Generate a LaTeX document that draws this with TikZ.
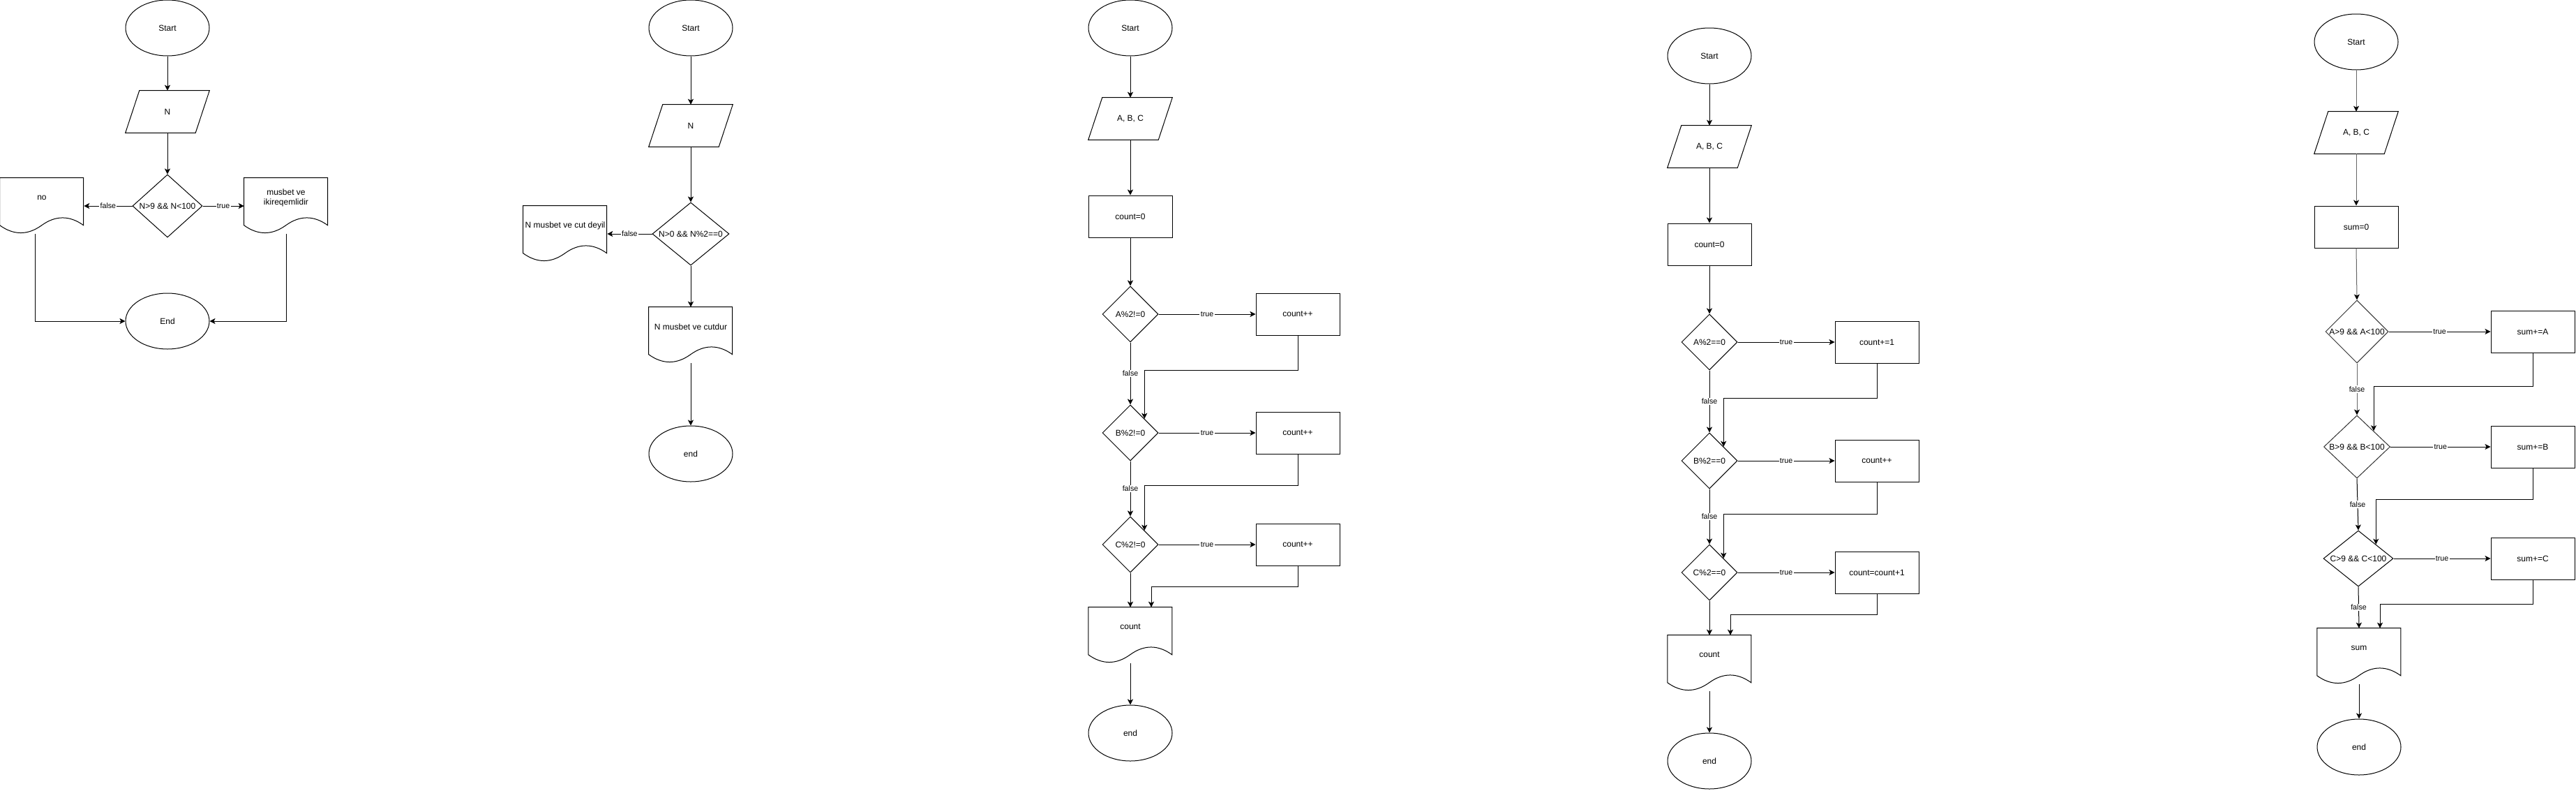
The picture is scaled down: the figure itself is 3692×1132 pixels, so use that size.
\documentclass[tikz,border=0pt]{standalone}
\usepackage{fontspec}
\setmainfont{Liberation Sans}
\usetikzlibrary{shapes.geometric,arrows.meta,calc}

\tikzset{
  every node/.style={font=\fontsize{9}{10.5}\selectfont},
  term/.style={ellipse, draw, line width=0.75pt, minimum width=90pt, minimum height=60pt, inner sep=0pt},
  procbox/.style={rectangle, draw, line width=0.75pt, minimum width=90pt, minimum height=45pt, inner sep=0pt},
  iobox/.style={rectangle, minimum width=90pt, minimum height=45pt, inner sep=0pt},
  decision/.style 2 args={diamond, draw, line width=0.75pt, inner sep=0pt, minimum width=#1, minimum height=#2},
  docbox/.style={rectangle, minimum width=90pt, minimum height=60pt, inner sep=0pt},
  flow/.style={line width=0.75pt, -{Stealth[length=6pt,width=6pt,inset=1.5pt]}},
  flowgray/.style={line width=0.75pt, draw=black!60, -{Stealth[length=6pt,width=6pt,inset=1.5pt,color=black]}},
  plain/.style={line width=0.75pt},
  elabel/.style={fill=white, inner sep=1pt, font=\fontsize{8}{9}\selectfont},
}

\newcommand\parashape[1]{\draw[plain] ($(#1.north west)+(20,0)$) -- (#1.north east) -- ($(#1.south east)+(-20,0)$) -- (#1.south west) -- cycle;}
\newcommand\docshape[1]{\draw[plain, shift={(#1.north west)}] (0,0) -- (120,0) -- (120,68) .. controls (100,53.6) and (80,53.6) .. (60,68) .. controls (40,82.4) and (20,82.4) .. (0,68) -- cycle;}

\begin{document}
\begin{tikzpicture}[x=0.75pt, y=-0.75pt]
\useasboundingbox (0,0) rectangle (3692,1132);

% ---------------- Chart 1 ----------------
\node[term] (s1) at (240,40) {Start};
\node[iobox] (n1) at (240,160) {N}; \parashape{n1}
\node[decision={75pt}{67.5pt}, label=center:{N>9 \&\& N<100}] (d1) at (240,295) {};
\node[docbox, label={[yshift=9pt]center:{no}}] (no1) at (60,295) {}; \docshape{no1}
\node[docbox, label={[yshift=9pt,align=center]center:{musbet ve\\ikireqemlidir}}] (ok1) at (410,295) {}; \docshape{ok1}
\node[term] (e1) at (240,460) {End};
\draw[flow] (s1.south) -- (n1.north);
\draw[flow] (n1.south) -- (d1.north);
\draw[flow] (d1.west) -- node[elabel]{false} (no1.east);
\draw[flow] (d1.east) -- node[elabel]{true} (ok1.west);
\draw[flow] ($(no1.south)+(-10,0)$) |- (e1.west);
\draw[flow] (ok1.south) |- (e1.east);

% ---------------- Chart 2 ----------------
\node[term] (s2) at (990,40) {Start};
\node[iobox] (n2) at (990,180) {N}; \parashape{n2}
\node[decision={82.5pt}{67.5pt}, label=center:{N>0 \&\& N\%2==0}] (d2) at (990,335) {};
\node[docbox, label={[yshift=9pt]center:{N musbet ve cut deyil}}] (no2) at (810,335) {}; \docshape{no2}
\node[docbox, label={[yshift=9pt]center:{N musbet ve cutdur}}] (ok2) at (990,480) {}; \docshape{ok2}
\node[term] (e2) at (990,650) {end};
\draw[flow] (s2.south) -- (n2.north);
\draw[flow] (n2.south) -- (d2.north);
\draw[flow] (d2.west) -- node[elabel]{false} (no2.east);
\draw[flow] (d2.south) -- (ok2.north);
\draw[flow] (ok2.south) -- (e2.north);

% ---------------- Chart 3 ----------------
\node[term] (s3) at (1620,40) {Start};
\node[iobox] (n3) at (1620,170) {A, B, C}; \parashape{n3}
\node[procbox] (c3) at (1620,310) {count=0};
\node[decision={60pt}{60pt}, label=center:{A\%2!=0}] (a3) at (1620,450) {};
\node[procbox] (ai3) at (1860,450) {count++};
\node[decision={60pt}{60pt}, label=center:{B\%2!=0}] (b3) at (1620,620) {};
\node[procbox] (bi3) at (1860,620) {count++};
\node[decision={60pt}{60pt}, label=center:{C\%2!=0}] (cc3) at (1620,780) {};
\node[procbox] (ci3) at (1860,780) {count++};
\node[docbox, label={[yshift=9pt]center:{count}}] (o3) at (1620,910) {}; \docshape{o3}
\node[term] (e3) at (1620,1050) {end};
\draw[flow] (s3.south) -- (n3.north);
\draw[flow] (n3.south) -- (c3.north);
\draw[flow] (c3.south) -- (a3.north);
\draw[flow] (a3.east) -- node[elabel]{true} (ai3.west);
\draw[flow] (a3.south) -- node[elabel]{false} (b3.north);
\draw[flow] (ai3.south) -- ++(0,50) -| (b3.north east);
\draw[flow] (b3.east) -- node[elabel]{true} (bi3.west);
\draw[flow] (b3.south) -- node[elabel]{false} (cc3.north);
\draw[flow] (bi3.south) -- ++(0,45) -| (cc3.north east);
\draw[flow] (cc3.east) -- node[elabel]{true} (ci3.west);
\draw[flow] (cc3.south) -- (o3.north);
\draw[flow] (ci3.south) -- ++(0,30) -| ($(o3.north)+(30,0)$);
\draw[flow] (o3.south) -- (e3.north);

% ---------------- Chart 4 ----------------
\node[term] (s4) at (2450,80) {Start};
\node[iobox] (n4) at (2450,210) {A, B, C}; \parashape{n4}
\node[procbox] (c4) at (2450,350) {count=0};
\node[decision={60pt}{60pt}, label=center:{A\%2==0}] (a4) at (2450,490) {};
\node[procbox] (ai4) at (2690,490) {count+=1};
\node[decision={60pt}{60pt}, label=center:{B\%2==0}] (b4) at (2450,660) {};
\node[procbox] (bi4) at (2690,660) {count++};
\node[decision={60pt}{60pt}, label=center:{C\%2==0}] (cc4) at (2450,820) {};
\node[procbox] (ci4) at (2690,820) {count=count+1};
\node[docbox, label={[yshift=9pt]center:{count}}] (o4) at (2450,950) {}; \docshape{o4}
\node[term] (e4) at (2450,1090) {end};
\draw[flow] (s4.south) -- (n4.north);
\draw[flow] (n4.south) -- (c4.north);
\draw[flow] (c4.south) -- (a4.north);
\draw[flow] (a4.east) -- node[elabel]{true} (ai4.west);
\draw[flow] (a4.south) -- node[elabel]{false} (b4.north);
\draw[flow] (ai4.south) -- ++(0,50) -| (b4.north east);
\draw[flow] (b4.east) -- node[elabel]{true} (bi4.west);
\draw[flow] (b4.south) -- node[elabel]{false} (cc4.north);
\draw[flow] (bi4.south) -- ++(0,46) -| (cc4.north east);
\draw[flow] (cc4.east) -- node[elabel]{true} (ci4.west);
\draw[flow] (cc4.south) -- (o4.north);
\draw[flow] (ci4.south) -- ++(0,30) -| ($(o4.north)+(30,0)$);
\draw[flow] (o4.south) -- (e4.north);

% ---------------- Chart 5 ----------------
\node[term] (s5) at (3377,60) {Start};
\node[iobox] (n5) at (3377,190) {A, B, C}; \parashape{n5}
\node[procbox] (z5) at (3377,325) {sum=0};
\node[decision={67.5pt}{67.5pt}, draw=black!80, label=center:{A>9 \&\& A<100}] (a5) at (3378,475) {};
\node[procbox] (ai5) at (3630,475) {sum+=A};
\node[decision={71.25pt}{67.5pt}, draw=black!80, label=center:{B>9 \&\& B<100}] (b5) at (3378,640) {};
\node[procbox] (bi5) at (3630,640) {sum+=B};
\node[decision={75pt}{60pt}, label=center:{C>9 \&\& C<100}] (cc5) at (3380,800) {};
\node[procbox] (ci5) at (3630,800) {sum+=C};
\node[docbox, label={[yshift=9pt]center:{sum}}] (o5) at (3381,940) {}; \docshape{o5}
\node[term] (e5) at (3381,1070) {end};
\draw[flowgray] (s5.south) -- (n5.north);
\draw[flowgray] (n5.south) -- (z5.north);
\draw[flowgray] (z5.south) -- (a5.north);
\draw[flow] (a5.east) -- node[elabel]{true} (ai5.west);
\draw[flowgray] (a5.south) -- node[elabel]{false} (b5.north);
\draw[flow] (ai5.south) -- ++(0,48) -| (b5.north east);
\draw[flow] (b5.east) -- node[elabel]{true} (bi5.west);
\draw[flow] (b5.south) -- node[elabel]{false} (cc5.north);
\draw[flow] (bi5.south) -- ++(0,45) -| (cc5.north east);
\draw[flow] (cc5.east) -- node[elabel]{true} (ci5.west);
\draw[flow] (cc5.south) -- node[elabel]{false} (o5.north);
\draw[flow] (ci5.south) -- ++(0,35) -| ($(o5.north)+(30,0)$);
\draw[flow] (o5.south) -- (e5.north);
\end{tikzpicture}
\end{document}
